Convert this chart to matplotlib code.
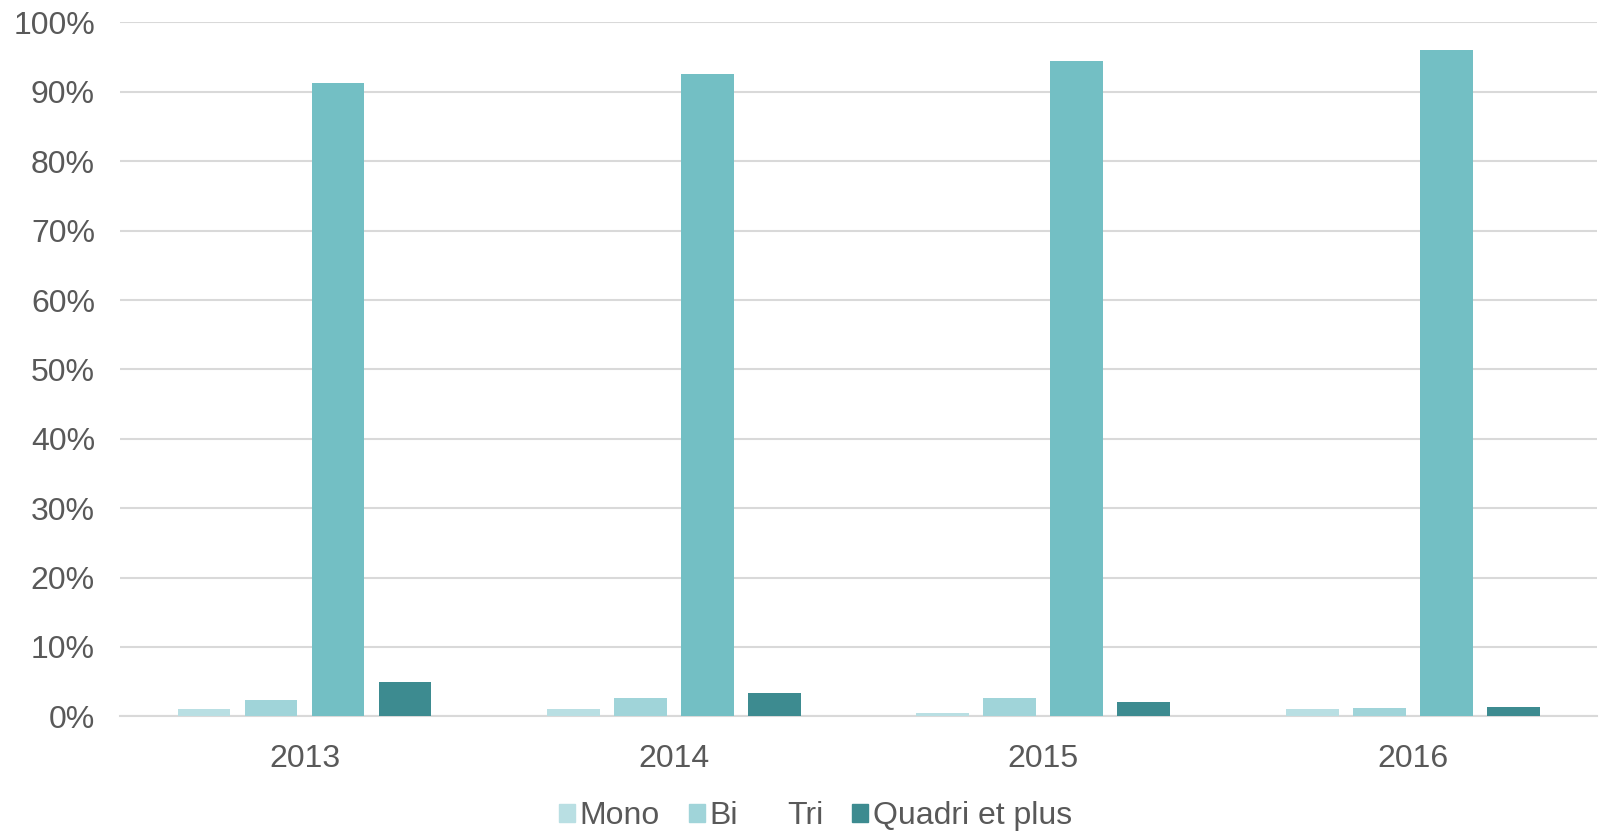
import matplotlib.pyplot as plt
import numpy as np
from matplotlib.patches import Patch

plt.rcParams['font.family'] = ['Liberation Sans', 'DejaVu Sans']

years = ["2013", "2014", "2015", "2016"]
series_names = ["Mono", "Bi", "Tri", "Quadri et plus"]
mono = [1.1, 1.1, 0.5, 1.0]
bi = [2.3, 2.7, 2.65, 1.25]
tri = [91.3, 92.6, 94.4, 96.0]
quadri = [4.9, 3.4, 2.1, 1.35]
colors = ["#B9DFE3", "#A0D4D9", "#73BFC4", "#3D8B90"]

text_color = "#595959"
grid_color = "#D9D9D9"

fig = plt.figure(figsize=(15.99, 8.32), dpi=100, facecolor="white")
ax = fig.add_axes([0.075, 0.139, 0.924, 0.834])

x = np.arange(len(years))
step = 0.1814
width = 0.1427
for i, (vals, col) in enumerate(zip([mono, bi, tri, quadri], colors)):
    ax.bar(x + (i - 1.5) * step, vals, width=width, color=col, zorder=3)

ax.set_xlim(-0.5, len(years) - 0.5)
ax.set_ylim(0, 100)
ax.set_yticks(np.arange(0, 101, 10))
ax.set_yticklabels([f"{v}%" for v in range(0, 101, 10)])
ax.set_xticks(x)
ax.set_xticklabels(years)

ax.grid(axis="y", color=grid_color, linewidth=1.5, zorder=0)
for side in ["top", "right", "left"]:
    ax.spines[side].set_visible(False)
ax.spines["bottom"].set_color(grid_color)
ax.spines["bottom"].set_linewidth(1.5)
ax.tick_params(axis="both", length=0, labelsize=23, colors=text_color)
ax.tick_params(axis="y", pad=18)
ax.tick_params(axis="x", pad=20)

# the "Tri" entry shows no swatch in the legend
handles = [Patch(color=colors[0]), Patch(color=colors[1]),
           Patch(color="none"), Patch(color=colors[3])]
leg = fig.legend(handles, series_names, loc="center", bbox_to_anchor=(0.51, 0.019),
                 ncol=4, frameon=False, fontsize=23, handlelength=0.5,
                 handleheight=0.5, handletextpad=0.15, columnspacing=0.9)
for t in leg.get_texts():
    t.set_color(text_color)

fig.savefig("out.png", dpi=100, facecolor="white")
